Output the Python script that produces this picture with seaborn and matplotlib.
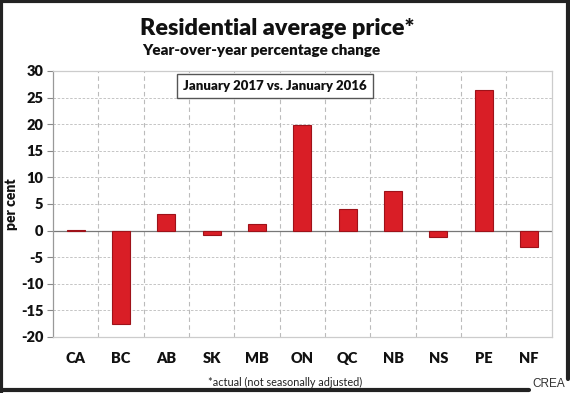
import matplotlib
matplotlib.use("Agg")
import matplotlib.pyplot as plt
from matplotlib.lines import Line2D
import pandas as pd
import seaborn as sns

# provinces and y/y % change, January 2017 vs January 2016
provinces = ["CA", "BC", "AB", "SK", "MB", "ON", "QC", "NB", "NS", "PE", "NF"]
pct_change = [0.2, -17.6, 3.1, -0.8, 1.2, 19.8, 4.0, 7.4, -1.3, 26.5, -3.0]
y_ticks = [-20, -15, -10, -5, 0, 5, 10, 15, 20, 25, 30]

df = pd.DataFrame({"prov": provinces, "pct": pct_change})

sns.set_theme(style="white")
plt.rcParams["font.family"] = ["Lato", "DejaVu Sans"]

fig = plt.figure(figsize=(5.70, 3.93), dpi=100)
ax = fig.add_axes([0.093, 0.1425, 0.875, 0.677])

sns.barplot(data=df, x="prov", y="pct", color="#d91e26", edgecolor="#9e1219",
            linewidth=0.8, width=0.4, saturation=1, ax=ax, zorder=3)

ax.set_ylim(-20, 30)
ax.set_xlim(-0.5, len(provinces) - 0.5)
ax.set_yticks(y_ticks)
ax.set_yticklabels([str(t) for t in y_ticks], fontweight="heavy", fontsize=10.5,
                   color="#111111")
ax.set_xticks(range(len(provinces)))
ax.set_xticklabels(provinces, fontweight="heavy", fontsize=10.5, color="#111111")
ax.tick_params(axis="x", length=0, pad=11)
ax.tick_params(axis="y", length=4, width=0.8, color="#888888", left=True, pad=3)

# dashed vertical separators between provinces
ax.set_xticks([i + 0.5 for i in range(len(provinces) - 1)], minor=True)
ax.tick_params(axis="x", which="minor", length=0)
ax.grid(axis="x", which="minor", linestyle=(0, (4, 3)), color="#bbbbbb", linewidth=0.8)
ax.grid(axis="y", which="major", linestyle=(0, (3, 2)), color="#bbbbbb", linewidth=0.6)
ax.grid(axis="x", which="major", visible=False)
ax.axhline(0, color="#777777", linewidth=0.9, zorder=2)

for side in ["top", "right", "bottom"]:
    ax.spines[side].set_color("#cccccc")
    ax.spines[side].set_linewidth(0.9)
ax.spines["left"].set_color("#999999")
ax.spines["left"].set_linewidth(0.9)

ax.set_xlabel("")
ax.set_ylabel("per cent", fontweight="heavy", fontsize=10, labelpad=2, color="#111111")

ax.text(0.445, 0.942, "January 2017 vs. January 2016", transform=ax.transAxes,
        ha="center", va="center", fontsize=9.5, fontweight="heavy", color="#111111",
        bbox=dict(boxstyle="square,pad=0.45", fc="white", ec="#555555", lw=1.0),
        zorder=5)

fig.text(0.487, 0.928, "Residential average price*", ha="center", va="center",
         fontsize=16.8, fontweight="heavy", color="#111111")
fig.text(0.458, 0.871, "Year-over-year percentage change", ha="center", va="center",
         fontsize=11, fontweight="heavy", color="#111111")
fig.text(0.5, 0.027, "*actual (not seasonally adjusted)", ha="center", va="center",
         fontsize=7.8, color="#222222")

# dark frame around the graphic
frame_kw = dict(color="#222222", linewidth=3, transform=fig.transFigure)
fig.add_artist(Line2D([0.002, 0.002], [0.0, 1.0], **frame_kw))
fig.add_artist(Line2D([0.0, 1.0], [0.997, 0.997], **frame_kw))
fig.add_artist(Line2D([0.996, 0.996], [0.035, 1.0], **frame_kw))
fig.add_artist(Line2D([0.0, 0.928], [0.007, 0.007], **frame_kw))
fig.text(0.962, 0.022, "CREA", ha="center", va="center", fontsize=8.5,
         family=["Liberation Sans", "DejaVu Sans"], color="#333333")

fig.savefig("out.png", dpi=100)
